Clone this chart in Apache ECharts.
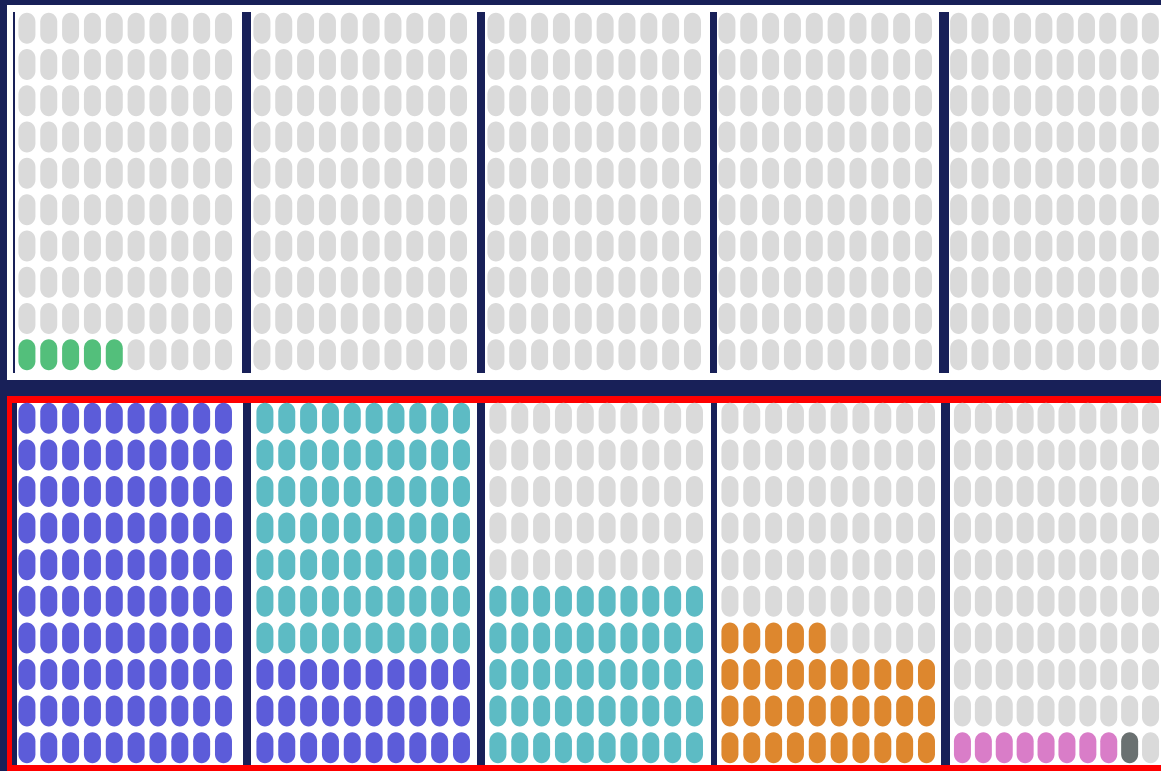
<!DOCTYPE html>
<html>
<head>
<meta charset="utf-8">
<title>waffle panels</title>
<script src="https://cdn.jsdelivr.net/npm/echarts@6/dist/echarts.min.js"></script>
<style>
  html, body { margin: 0; padding: 0; background: #182058; }
  #chart { width: 1161px; height: 771px; }
</style>
</head>
<body>
<div id="chart"></div>
<script>
// 10 panels: 5 in the top strip, 5 in the bottom (red) strip
const panels = ['T1', 'T2', 'T3', 'T4', 'T5', 'B1', 'B2', 'B3', 'B4', 'B5'];
// filled cells per panel (fill order: bottom row first, left to right)
const greenCounts  = [5, 0, 0, 0, 0,   0,  0,  0,  0, 0];
const blueCounts   = [0, 0, 0, 0, 0, 100, 30,  0,  0, 0];
const tealCounts   = [0, 0, 0, 0, 0,   0, 70, 50,  0, 0];
const orangeCounts = [0, 0, 0, 0, 0,   0,  0,  0, 35, 0];
const pinkCounts   = [0, 0, 0, 0, 0,   0,  0,  0,  0, 8];
const slateCounts  = [0, 0, 0, 0, 0,   0,  0,  0,  0, 1];
const cellsPerPanel = 100;

const layers = [
  { name: 'green', counts: greenCounts, color: '#53bf7b' },
  { name: 'blue', counts: blueCounts, color: '#5c5cd9' },
  { name: 'teal', counts: tealCounts, color: '#5dbbc4' },
  { name: 'orange', counts: orangeCounts, color: '#dd872e' },
  { name: 'pink', counts: pinkCounts, color: '#d97dc8' },
  { name: 'slate', counts: slateCounts, color: '#6a7171' }
];
const emptyColor = '#dadada';
const navy = '#182058';

// pill shape (stadium), slightly oval caps
const pill = 'path://M8.5,0 C13.2,0 17,4.2 17,9 L17,22 C17,26.8 13.2,31 8.5,31 C3.8,31 0,26.8 0,22 L0,9 C0,4.2 3.8,0 8.5,0 Z';

const chart = echarts.init(document.getElementById('chart'));

function cell(i) {
  return [(i % 10) + 0.5, Math.floor(i / 10) + 0.5];
}

const lefts = [16, 251, 485, 716, 948, 16, 254, 487, 719, 952];
const grids = [], xAxes = [], yAxes = [], series = [];

panels.forEach((p, idx) => {
  const top = idx < 5;
  grids.push({
    left: lefts[idx],
    top: top ? 10 : 400,
    width: 218.4,
    height: top ? 363 : 366
  });
  xAxes.push({ gridIndex: idx, type: 'value', min: 0, max: 10, show: false });
  yAxes.push({ gridIndex: idx, type: 'value', min: 0, max: 10, show: false });

  let cursor = 0;
  layers.forEach(l => {
    const n = l.counts[idx];
    if (!n) return;
    const data = [];
    for (let i = cursor; i < cursor + n; i++) data.push(cell(i));
    cursor += n;
    series.push({
      name: p + '-' + l.name,
      type: 'scatter',
      xAxisIndex: idx,
      yAxisIndex: idx,
      symbol: pill,
      symbolSize: [17, 31],
      itemStyle: { color: l.color, opacity: 1 },
      silent: true,
      data: data
    });
  });
  const rest = [];
  for (let i = cursor; i < cellsPerPanel; i++) rest.push(cell(i));
  series.push({
    name: p + '-empty',
    type: 'scatter',
    xAxisIndex: idx,
    yAxisIndex: idx,
    symbol: pill,
    symbolSize: [17, 31],
    itemStyle: { color: emptyColor, opacity: 1 },
    silent: true,
    data: rest
  });
});

// frame: white strips, red border, navy dividers
const topBars = [[13, 2], [242, 9], [477, 8], [710, 7], [939, 10]];
const bottomBars = [[12, 5], [243, 8], [477, 8], [711, 6], [941, 9]];
const frame = [
  { type: 'rect', shape: { x: 7, y: 5, width: 1200, height: 375 }, style: { fill: '#ffffff' } },
  { type: 'rect', shape: { x: 7, y: 396, width: 1200, height: 400 }, style: { fill: '#ff0000' } },
  { type: 'rect', shape: { x: 13, y: 403, width: 1200, height: 362 }, style: { fill: '#ffffff' } }
];
topBars.forEach(b => frame.push({
  type: 'rect', shape: { x: b[0], y: 12, width: b[1], height: 361 }, style: { fill: navy }
}));
bottomBars.forEach(b => frame.push({
  type: 'rect', shape: { x: b[0], y: 403, width: b[1], height: 362 }, style: { fill: navy }
}));

chart.setOption({
  backgroundColor: navy,
  animation: false,
  graphic: { elements: frame },
  grid: grids,
  xAxis: xAxes,
  yAxis: yAxes,
  series: series
});
</script>
</body>
</html>
